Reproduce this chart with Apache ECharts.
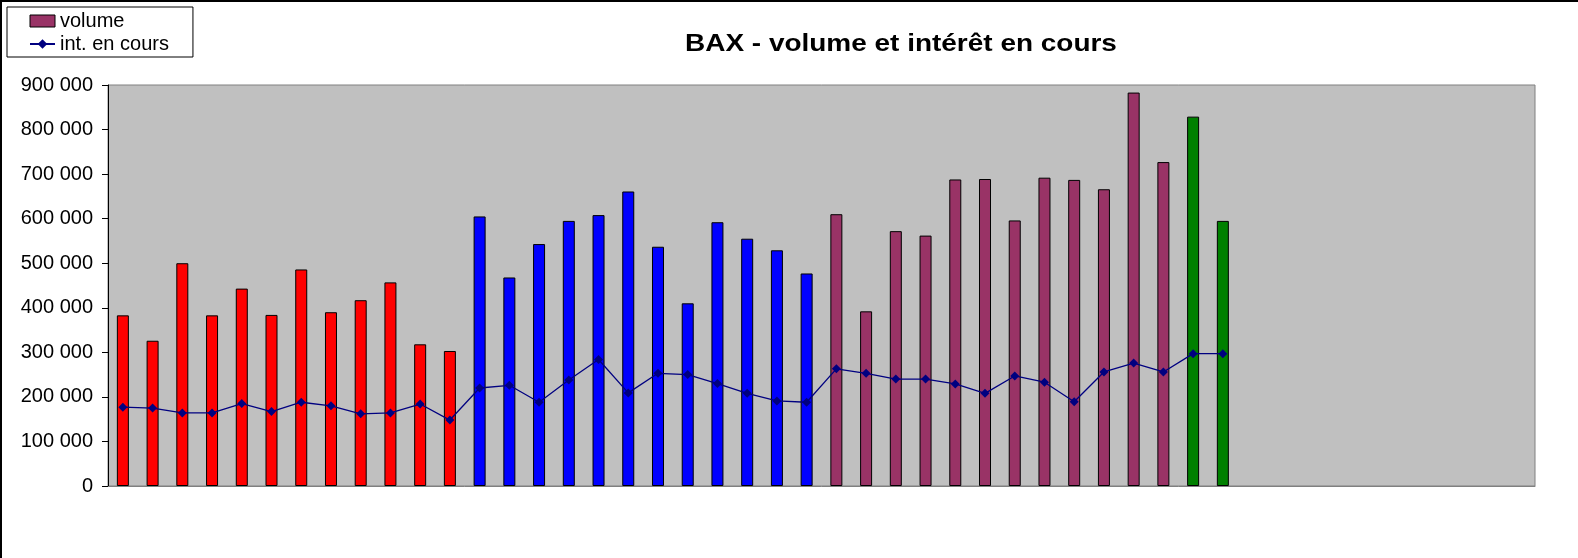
<!DOCTYPE html>
<html>
<head>
<meta charset="utf-8">
<script src="https://cdn.jsdelivr.net/npm/echarts@6/dist/echarts.min.js"></script>
<style>
  html, body { margin: 0; padding: 0; background: #fff; }
  #main { position: absolute; left: 0; top: 0; width: 1576px; height: 556px;
          border-top: 2px solid #000; border-left: 2px solid #000; }
</style>
</head>
<body>
<div id="main"></div>
<script>
// 48 categories, only the first 38 carry data
var nbCategories = 48;

// volume par période (couleurs différentes selon la période)
var volumeRouge  = [383000, 326000, 500000, 383000, 443000, 384000, 486000, 390000, 417000, 457000, 318000, 303000];
var volumeBleu   = [605000, 468000, 543000, 595000, 608000, 661000, 537000, 410000, 592000, 555000, 529000, 477000];
var volumeViolet = [610000, 392000, 572000, 562000, 688000, 689000, 596000, 692000, 687000, 666000, 883000, 727000];
var volumeVert   = [829000, 595000];

// intérêt en cours
var interet = [177000, 175000, 164000, 164000, 185000, 167000, 188000, 180000, 162000, 164000, 184000, 148000,
               220000, 226000, 188000, 238000, 284000, 209000, 253000, 250000, 230000, 208000, 191000, 188000,
               263000, 253000, 240000, 240000, 229000, 208000, 247000, 233000, 189000, 256000, 276000, 256000,
               297000, 297000];

var couleurs = { rouge: '#FF0000', bleu: '#0000FF', violet: '#993366', vert: '#008000' };

var categories = [];
for (var i = 0; i < nbCategories; i++) categories.push('');

var volumeData = [];
var addGroup = function(arr, col){
    arr.forEach(function(v){
        volumeData.push({ value: v, itemStyle: { color: col } });
    });
};
addGroup(volumeRouge, couleurs.rouge);
addGroup(volumeBleu, couleurs.bleu);
addGroup(volumeViolet, couleurs.violet);
addGroup(volumeVert, couleurs.vert);

var chart = echarts.init(document.getElementById('main'), null, { renderer: 'canvas' });

var option = {
    backgroundColor: '#fff',
    animation: false,
    // titre un peu étiré horizontalement comme dans l'original
    graphic: [{
        type: 'text',
        x: 683,
        y: 42.5,
        scaleX: 1.165,
        style: {
            text: 'BAX - volume et intérêt en cours',
            font: 'bold 24px "Liberation Sans", Arial',
            fill: '#000',
            verticalAlign: 'middle'
        }
    }],
    legend: {
        orient: 'vertical',
        left: 5,
        top: 5,
        padding: [4, 24, 3, 22],
        itemGap: 3,
        itemWidth: 25,
        itemHeight: 12,
        borderColor: '#000',
        borderWidth: 1,
        backgroundColor: '#fff',
        textStyle: { fontFamily: 'Liberation Sans, Arial', fontSize: 20, color: '#000' },
        data: [
            { name: 'volume', icon: 'rect', itemStyle: { color: couleurs.violet, borderColor: '#000', borderWidth: 1 } },
            { name: 'int. en cours' }
        ]
    },
    grid: {
        left: 106,
        right: 43,
        top: 83,
        bottom: 72,
        show: true,
        backgroundColor: '#C0C0C0',
        borderColor: '#808080',
        borderWidth: 1
    },
    xAxis: {
        type: 'category',
        data: categories,
        axisLine: { show: true, lineStyle: { color: '#808080' } },
        axisTick: { show: false },
        axisLabel: { show: false },
        splitLine: { show: false }
    },
    yAxis: {
        type: 'value',
        min: 0,
        max: 900000,
        interval: 100000,
        axisLine: { show: true, lineStyle: { color: '#000', width: 1 } },
        axisTick: { show: true, length: 6, lineStyle: { color: '#000' } },
        splitLine: { show: false },
        axisLabel: {
            margin: 15,
            fontFamily: 'Liberation Sans, Arial',
            fontSize: 20,
            color: '#000',
            formatter: function(v){
                return String(v).replace(/\B(?=(\d{3})+(?!\d))/g, ' ');
            }
        }
    },
    series: [
        {
            name: 'volume',
            type: 'bar',
            barWidth: 12,
            itemStyle: { color: couleurs.violet, borderColor: '#000', borderWidth: 1 },
            data: volumeData
        },
        {
            name: 'int. en cours',
            type: 'line',
            data: interet,
            symbol: 'diamond',
            symbolSize: 9,
            lineStyle: { color: '#000080', width: 1.3 },
            itemStyle: { color: '#000080' },
            z: 5
        }
    ]
};

chart.setOption(option);
</script>
</body>
</html>
